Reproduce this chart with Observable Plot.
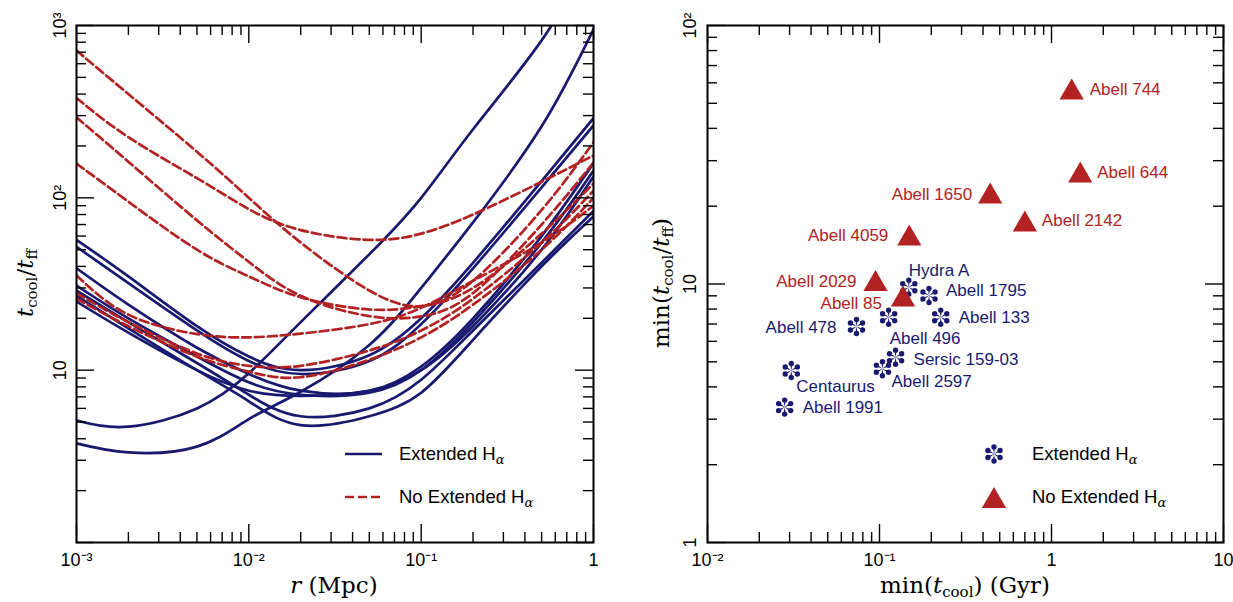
<!DOCTYPE html>
<html>
<head>
<meta charset="utf-8">
<script src="https://cdn.jsdelivr.net/npm/d3@7"></script>
<script src="https://cdn.jsdelivr.net/npm/@observablehq/plot@0.6"></script>
<style>
  html,body{margin:0;padding:0;background:#fff;}
  #fig{position:relative;width:1233px;height:602px;overflow:hidden;font-family:"Liberation Sans",Arial,sans-serif;color:#000;}
  .panel{position:absolute;top:0;}
  .ttl{position:absolute;font-family:"DejaVu Serif",serif;font-size:23px;white-space:nowrap;line-height:1;transform:translate(-50%,-50%);}
  .ttl.rot{transform:translate(-50%,-50%) rotate(-90deg);}
  .ttl sub{font-size:15px;vertical-align:-4px;line-height:0;font-style:normal;}
  .leg{position:absolute;font-size:18.5px;white-space:nowrap;line-height:1;transform:translateY(-50%);}
  .leg sub{font-size:13px;vertical-align:-4px;font-family:"DejaVu Serif",serif;font-style:italic;line-height:0;}
  .sw{position:absolute;overflow:visible;}
</style>
</head>
<body>
<div id="fig"></div>
<script>
// ---------------- data ----------------
const radiusMpc = [0.001, 0.002, 0.005, 0.01, 0.02, 0.05, 0.1, 0.2, 0.5, 1];

// t_cool / t_ff profiles, clusters with extended H-alpha (solid blue)
const extendedProfiles = [
  [5.1, 4.7, 6.0, 9.6, 19, 47, 100, 250, 820, 2600],
  [3.76, 3.33, 3.6, 5.2, 7.5, 14, 30, 72, 260, 950],
  [57, 35, 18, 12, 10, 12.2, 20, 42, 125, 290],
  [52, 32, 17, 11.3, 9.5, 11.3, 18.5, 39, 115, 263],
  [39, 24, 13.5, 9.5, 7.6, 7.6, 10.5, 20, 60, 159],
  [31, 20, 12, 8.5, 7.2, 7.4, 10, 19, 55, 144],
  [29, 19, 11, 7.2, 5.4, 6.0, 8.8, 17, 42, 84],
  [27, 17.5, 10, 6.6, 4.8, 5.4, 7.4, 15, 40, 78],
  [25, 16.5, 10, 7.6, 7.1, 7.6, 10, 18, 50, 133]
];
// profiles, clusters without extended H-alpha (dashed red)
const noExtendedProfiles = [
  [716, 400, 185, 100, 55, 29, 23.5, 33, 85, 210],
  [380, 225, 130, 86, 65, 57, 62, 80, 124, 176],
  [293, 162, 74, 42.5, 27, 20.6, 20.5, 28, 70, 160],
  [158, 95, 50, 35, 26.5, 22.5, 23.5, 30, 62, 121],
  [35.5, 21, 16.2, 15.5, 16.3, 18.5, 23, 33, 55, 90],
  [28, 19, 12.5, 10.6, 10.6, 13, 17, 26, 55, 110],
  [26, 18, 12, 9.8, 9.1, 11.5, 15.5, 24, 50, 100]
];

// right panel: minimum values
const extNames    = ["Hydra A", "Abell 1795", "Abell 496", "Abell 133", "Abell 478", "Sersic 159-03", "Abell 2597", "Centaurus", "Abell 1991"];
const extMinTcool = [0.148, 0.194, 0.113, 0.227, 0.0735, 0.124, 0.104, 0.0307, 0.0281];
const extMinRatio = [9.72, 9.03, 7.44, 7.44, 6.85, 5.21, 4.70, 4.63, 3.34];

const noNames     = ["Abell 744", "Abell 644", "Abell 1650", "Abell 2142", "Abell 4059", "Abell 2029", "Abell 85"];
const noMinTcool  = [1.31, 1.47, 0.44, 0.70, 0.149, 0.0948, 0.137];
const noMinRatio  = [55.0, 26.3, 21.8, 17.0, 15.0, 10.0, 8.71];

// tick values and labels
const xTicksLeft  = [0.001, 0.01, 0.1, 1];
const xLabelsLeft = ["10⁻³", "10⁻²", "10⁻¹", "1"];
const yTicksLeft  = [1, 10, 100, 1000];
const yLabelsLeft = ["", "10", "10²", "10³"];
const xTicksRight  = [0.01, 0.1, 1, 10];
const xLabelsRight = ["10⁻²", "10⁻¹", "1", "10"];
const yTicksRight  = [1, 10, 100];
const yLabelsRight = ["1", "10", "10²"];

// ---------------- layout (not data) ----------------
const BLUE = "#191970", RED = "#b22222";
// label placement: [dx, dy, anchor]
const extLabelPlace = [[0,-17,"start"],[17,-5,"start"],[1,21,"start"],[18,0,"start"],[-20,1,"end"],[18,2,"start"],[9,13,"start"],[5,16,"start"],[18,0,"start"]];
const noLabelPlace  = [[18,-3,"start"],[17,-3,"start"],[-18,-2,"end"],[17,-4,"start"],[-21,-3,"end"],[-19,-2,"end"],[-21,4,"end"]];

function minors(lo, hi) {
  const out = [];
  for (let e = lo; e < hi; e++) for (let k = 2; k <= 9; k++) out.push(+(k * Math.pow(10, e)).toPrecision(6));
  return out;
}

const asterisk = {
  draw(ctx, size) {
    const R = Math.sqrt(size / Math.PI);
    for (let k = 0; k < 6; k++) {
      const a = -Math.PI / 2 + k * Math.PI / 3;
      const ux = Math.cos(a), uy = Math.sin(a), px = -uy, py = ux;
      const c = 0.7 * R, w = 0.12 * R, rb = 0.27 * R;
      const cx = c * ux, cy = c * uy;
      ctx.moveTo(0, 0);
      ctx.lineTo(cx - w * px, cy - w * py);
      ctx.lineTo(cx + w * px, cy + w * py);
      ctx.closePath();
      ctx.moveTo(cx + rb, cy);
      ctx.arc(cx, cy, rb, 0, 2 * Math.PI);
      ctx.closePath();
    }
  }
};

function frameTicks(xMaj, xMin, yMaj, yMin, iw, ih) {
  const M = 18, m = 10, sw = 1.4;
  const o = {stroke: "black", strokeWidth: sw};
  return [
    Plot.tickX(xMaj, {x: d => d, insetTop: ih - M, ...o}),
    Plot.tickX(xMaj, {x: d => d, insetBottom: ih - M, ...o}),
    Plot.tickX(xMin, {x: d => d, insetTop: ih - m, ...o}),
    Plot.tickX(xMin, {x: d => d, insetBottom: ih - m, ...o}),
    Plot.tickY(yMaj, {y: d => d, insetRight: iw - M, ...o}),
    Plot.tickY(yMaj, {y: d => d, insetLeft: iw - M, ...o}),
    Plot.tickY(yMin, {y: d => d, insetRight: iw - m, ...o}),
    Plot.tickY(yMin, {y: d => d, insetLeft: iw - m, ...o})
  ];
}

// ---------------- left panel ----------------
const blueRows = extendedProfiles.flatMap((vals, id) => vals.map((v, i) => ({id, r: radiusMpc[i], v})));
const redRows  = noExtendedProfiles.flatMap((vals, id) => vals.map((v, i) => ({id, r: radiusMpc[i], v})));

const L = {w: 620, h: 602, ml: 76, mr: 27, mt: 25, mb: 60};
const LiW = L.w - L.ml - L.mr, LiH = L.h - L.mt - L.mb;

const leftPlot = Plot.plot({
  width: L.w, height: L.h,
  marginLeft: L.ml, marginRight: L.mr, marginTop: L.mt, marginBottom: L.mb,
  x: {type: "log", domain: [1e-3, 1], axis: null},
  y: {type: "log", domain: [1, 1000], axis: null},
  style: {fontFamily: "Liberation Sans, Arial, sans-serif", background: "white", color: "black", overflow: "visible"},
  marks: [
    Plot.line(blueRows, {x: "r", y: "v", z: "id", stroke: BLUE, strokeWidth: 2.7, curve: "natural", clip: true}),
    Plot.line(redRows, {x: "r", y: "v", z: "id", stroke: RED, strokeWidth: 2.7, strokeDasharray: "9,4", curve: "natural", clip: true}),
    ...frameTicks(xTicksLeft, minors(-3, 0), yTicksLeft, minors(0, 3), LiW, LiH),
    Plot.frame({stroke: "black", strokeWidth: 2}),
    Plot.text(xTicksLeft, {x: d => d, text: (d, i) => xLabelsLeft[i], frameAnchor: "bottom", lineAnchor: "top", dy: 11, fontSize: 18, fill: "black"}),
    Plot.text(yTicksLeft, {y: d => d, text: (d, i) => yLabelsLeft[i], frameAnchor: "left", rotate: -90, lineAnchor: "bottom", textAnchor: "middle", dx: -11, fontSize: 18, fill: "black"})
  ]
});

// ---------------- right panel ----------------
const extData = extNames.map((name, i) => ({name, t: extMinTcool[i], v: extMinRatio[i]}));
const noData  = noNames.map((name, i) => ({name, t: noMinTcool[i], v: noMinRatio[i]}));

const R = {w: 613, h: 602, ml: 87, mr: 10, mt: 25, mb: 60};
const RiW = R.w - R.ml - R.mr, RiH = R.h - R.mt - R.mb;

const rightPlot = Plot.plot({
  width: R.w, height: R.h,
  marginLeft: R.ml, marginRight: R.mr, marginTop: R.mt, marginBottom: R.mb,
  x: {type: "log", domain: [0.01, 10], axis: null},
  y: {type: "log", domain: [1, 100], axis: null},
  style: {fontFamily: "Liberation Sans, Arial, sans-serif", background: "white", color: "black", overflow: "visible"},
  marks: [
    ...frameTicks(xTicksRight, minors(-2, 1), yTicksRight, minors(0, 2), RiW, RiH),
    Plot.frame({stroke: "black", strokeWidth: 2}),
    Plot.dot(extData, {x: "t", y: "v", symbol: asterisk, r: 10, fill: BLUE, stroke: "none"}),
    Plot.dot(noData, {x: "t", y: "v", symbol: "triangle", r: 9, fill: RED, stroke: "none"}),
    ...extData.map((d, i) => Plot.text([d], {x: "t", y: "v", text: "name", dx: extLabelPlace[i][0], dy: extLabelPlace[i][1], textAnchor: extLabelPlace[i][2], fill: BLUE, fontSize: 17})),
    ...noData.map((d, i) => Plot.text([d], {x: "t", y: "v", text: "name", dx: noLabelPlace[i][0], dy: noLabelPlace[i][1], textAnchor: noLabelPlace[i][2], fill: RED, fontSize: 17})),
    Plot.text(xTicksRight, {x: d => d, text: (d, i) => xLabelsRight[i], frameAnchor: "bottom", lineAnchor: "top", dy: 11, fontSize: 18, fill: "black"}),
    Plot.text(yTicksRight, {y: d => d, text: (d, i) => yLabelsRight[i], frameAnchor: "left", rotate: -90, lineAnchor: "bottom", textAnchor: "middle", dx: -12, fontSize: 18, fill: "black"})
  ]
});

// ---------------- assemble ----------------
const fig = document.getElementById("fig");
leftPlot.classList.add("panel"); leftPlot.style.left = "0px";
rightPlot.classList.add("panel"); rightPlot.style.left = L.w + "px";
fig.appendChild(leftPlot);
fig.appendChild(rightPlot);

function addHTML(html) { fig.insertAdjacentHTML("beforeend", html); }

// axis titles
addHTML(`<div class="ttl" style="left:334px;top:585px"><i>r</i> (Mpc)</div>`);
addHTML(`<div class="ttl rot" style="left:25px;top:283px"><i>t</i><sub>cool</sub>/<i>t</i><sub>ff</sub></div>`);
addHTML(`<div class="ttl" style="left:965px;top:585px">min(<i>t</i><sub>cool</sub>) (Gyr)</div>`);
addHTML(`<div class="ttl rot" style="left:661px;top:283px">min(<i>t</i><sub>cool</sub>/<i>t</i><sub>ff</sub>)</div>`);

// legends
const legExt = `Extended H<sub>α</sub>`, legNo = `No Extended H<sub>α</sub>`;
addHTML(`<svg class="sw" style="left:345px;top:444px" width="38" height="20"><line x1="0" y1="10" x2="37" y2="10" stroke="${BLUE}" stroke-width="2.7"/></svg>`);
addHTML(`<div class="leg" style="left:399px;top:454px">${legExt}</div>`);
addHTML(`<svg class="sw" style="left:345px;top:487px" width="38" height="20"><line x1="0" y1="10" x2="37" y2="10" stroke="${RED}" stroke-width="2.7" stroke-dasharray="9,4"/></svg>`);
addHTML(`<div class="leg" style="left:399px;top:497px">${legNo}</div>`);

const ap = d3.path(); asterisk.draw(ap, Math.PI * 100);
const tri = d3.symbol(d3.symbolTriangle, Math.PI * 81)();
addHTML(`<svg class="sw" style="left:974px;top:434px" width="40" height="40"><path transform="translate(20,20)" d="${ap.toString()}" fill="${BLUE}"/></svg>`);
addHTML(`<div class="leg" style="left:1032px;top:454px">${legExt}</div>`);
addHTML(`<svg class="sw" style="left:974px;top:481px" width="40" height="40"><path transform="translate(20,20)" d="${tri}" fill="${RED}"/></svg>`);
addHTML(`<div class="leg" style="left:1032px;top:497px">${legNo}</div>`);
</script>
</body>
</html>
